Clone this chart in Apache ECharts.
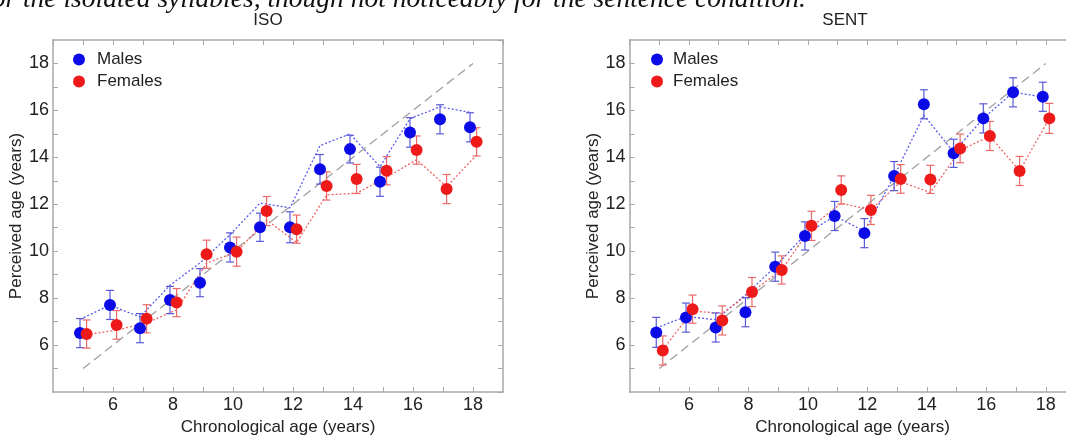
<!DOCTYPE html>
<html>
<head>
<meta charset="utf-8">
<script src="https://cdn.jsdelivr.net/npm/echarts@6/dist/echarts.min.js"></script>
<style>
	html, body { margin: 0; padding: 0; background: #fff; overflow: hidden; }
	#chart { width: 1066px; height: 435px; }
</style>
</head>
<body>
<div id="chart"></div>
<script>
	// chronological ages (x)
	var ages = [5, 6, 7, 8, 9, 10, 11, 12, 13, 14, 15, 16, 17, 18];

	// ISO panel
	var isoMale = [6.51, 7.71, 6.72, 7.92, 8.66, 10.16, 11.02, 11.02, 13.49, 14.35, 12.96, 15.06, 15.62, 15.28];
	var isoMaleErr = [0.62, 0.62, 0.62, 0.58, 0.6, 0.62, 0.6, 0.66, 0.63, 0.59, 0.62, 0.63, 0.62, 0.62];
	var isoFemale = [6.47, 6.86, 7.12, 7.81, 9.87, 9.98, 11.71, 10.94, 12.78, 13.08, 13.43, 14.31, 12.65, 14.66];
	var isoFemaleErr = [0.6, 0.61, 0.6, 0.6, 0.6, 0.62, 0.62, 0.6, 0.6, 0.62, 0.6, 0.6, 0.62, 0.6];
	var isoMaleLine = [7.1, 7.7, 7.2, 8.55, 9.5, 10.7, 12.05, 11.85, 14.5, 15.0, 13.6, 15.65, 16.15, 15.92];
	var isoFemaleLine = [6.44, 6.64, 6.94, 7.5, 9.49, 9.98, 11.33, 10.37, 12.4, 12.47, 13.15, 13.9, 12.75, 14.1];

	// SENT panel
	var sentMale = [6.54, 7.17, 6.75, 7.4, 9.34, 10.65, 11.5, 10.77, 13.2, 16.26, 14.17, 15.66, 16.77, 16.58];
	var sentMaleErr = [0.64, 0.62, 0.62, 0.62, 0.62, 0.6, 0.62, 0.62, 0.62, 0.62, 0.6, 0.62, 0.62, 0.62];
	var sentFemale = [5.77, 7.53, 7.05, 8.26, 9.2, 11.08, 12.61, 11.76, 13.08, 13.06, 14.38, 14.91, 13.42, 15.66];
	var sentFemaleErr = [0.62, 0.6, 0.62, 0.62, 0.6, 0.62, 0.6, 0.62, 0.61, 0.6, 0.61, 0.62, 0.62, 0.64];
	var sentMaleLine = [6.73, 7.22, 7.08, 8.14, 9.34, 10.7, 11.5, 10.85, 13.2, 15.8, 14.22, 15.66, 16.77, 16.58];
	var sentFemaleLine = [5.8, 7.45, 7.35, 8.28, 9.2, 11.05, 12.04, 11.76, 12.96, 12.5, 14.3, 14.9, 13.42, 15.66];

	// identity line
	var diagonal = [[5, 5], [18, 18]];

	var FONT = 'Liberation Sans, Arial, sans-serif';
	var BLUE = '#0b0be8', RED = '#ee1a1a';
	var offM = -0.1, offF = 0.12;

	function pts(vals, off) {
		return ages.map(function(a, i) { return [a + off, vals[i]] });
	}
	function errPts(vals, errs, off) {
		return ages.map(function(a, i) { return [a + off, vals[i] - errs[i], vals[i] + errs[i]] });
	}

	function errRender(color) {
		return function(params, api) {
			var x = api.value(0);
			var pHi = api.coord([x, api.value(2)]);
			var pLo = api.coord([x, api.value(1)]);
			var w = 4;
			var st = { stroke: color, lineWidth: 1.2 };
			return {
				type: 'group',
				children: [
					{ type: 'line', shape: { x1: pHi[0], y1: pHi[1], x2: pLo[0], y2: pLo[1] }, style: st },
					{ type: 'line', shape: { x1: pHi[0] - w, y1: pHi[1], x2: pHi[0] + w, y2: pHi[1] }, style: st },
					{ type: 'line', shape: { x1: pLo[0] - w, y1: pLo[1], x2: pLo[0] + w, y2: pLo[1] }, style: st }
				]
			};
		};
	}

	var axLine = { show: true, onZero: false, lineStyle: { color: '#a8a8a8', width: 1.5 } };
	var axTick = { show: true, inside: true, length: 5, lineStyle: { color: '#a8a8a8' } };

	function labelFmt(v) {
		return (v % 2 === 0 && v > 4) ? String(v) : '';
	}

	function xAxes(gi) {
		return [{
			gridIndex: gi, type: 'value', min: 4, max: 19, interval: 1, position: 'bottom',
			axisLine: axLine, axisTick: axTick, splitLine: { show: false },
			axisLabel: { formatter: labelFmt, color: '#222', fontSize: 18, fontFamily: FONT, margin: 4, showMinLabel: false, showMaxLabel: false },
			name: 'Chronological age (years)', nameLocation: 'middle', nameGap: 26,
			nameTextStyle: { color: '#222', fontSize: 17, fontFamily: FONT }
		}, {
			gridIndex: gi, type: 'value', min: 4, max: 19, interval: 1, position: 'top',
			axisLine: axLine, axisTick: axTick, splitLine: { show: false }, axisLabel: { show: false }
		}];
	}
	function yAxes(gi) {
		return [{
			gridIndex: gi, type: 'value', min: 4, max: 19, interval: 1, position: 'left',
			axisLine: axLine, axisTick: axTick, splitLine: { show: false },
			axisLabel: { formatter: labelFmt, color: '#222', fontSize: 18, fontFamily: FONT, margin: 4, showMinLabel: false, showMaxLabel: false },
			name: 'Perceived age (years)', nameLocation: 'middle', nameGap: 25,
			nameTextStyle: { color: '#222', fontSize: 17, fontFamily: FONT }
		}, {
			gridIndex: gi, type: 'value', min: 4, max: 19, interval: 1, position: 'right',
			axisLine: axLine, axisTick: axTick, splitLine: { show: false }, axisLabel: { show: false }
		}];
	}

	function panelSeries(xi, yi, male, maleErr, female, femaleErr, maleLine, femaleLine) {
		return [{
			type: 'line', xAxisIndex: xi, yAxisIndex: yi, data: diagonal, symbol: 'none', silent: true,
			lineStyle: { color: '#a0a0a0', width: 1.3, type: [9, 5] }, z: 1
		}, {
			type: 'line', xAxisIndex: xi, yAxisIndex: yi, data: pts(maleLine, offM), symbol: 'none', silent: true,
			lineStyle: { color: '#5a5aee', width: 1.3, type: [2, 2] }, z: 2
		}, {
			type: 'line', xAxisIndex: xi, yAxisIndex: yi, data: pts(femaleLine, offF), symbol: 'none', silent: true,
			lineStyle: { color: '#ee6464', width: 1.3, type: [2, 2] }, z: 2
		}, {
			type: 'custom', xAxisIndex: xi, yAxisIndex: yi, data: errPts(male, maleErr, offM),
			renderItem: errRender('#5a5ad8'), z: 3
		}, {
			type: 'custom', xAxisIndex: xi, yAxisIndex: yi, data: errPts(female, femaleErr, offF),
			renderItem: errRender('#ea6a6a'), z: 3
		}, {
			name: 'Males', type: 'scatter', xAxisIndex: xi, yAxisIndex: yi, data: pts(male, offM),
			symbolSize: 12, itemStyle: { color: BLUE, opacity: 1 }, z: 4
		}, {
			name: 'Females', type: 'scatter', xAxisIndex: xi, yAxisIndex: yi, data: pts(female, offF),
			symbolSize: 12, itemStyle: { color: RED, opacity: 1 }, z: 5
		}];
	}

	function legendAt(left, pad) {
		return {
			data: ['Males', 'Females'], orient: 'vertical', left: left, top: 50, padding: 0,
			icon: 'circle', itemWidth: 12, itemHeight: 12, itemGap: 3,
			textStyle: { color: '#222', fontSize: 17, fontFamily: FONT, lineHeight: 19, padding: [0, 0, 0, pad] },
			selectedMode: false
		};
	}

	var Chart = echarts.init(document.getElementById('chart'), null, { renderer: 'canvas' });
	var option = {
		backgroundColor: '#fff',
		animation: false,
		grid: [
			{ left: 53, top: 40, width: 450, height: 352, outerBoundsMode: 'none' },
			{ left: 629.5, top: 40, width: 446, height: 352, outerBoundsMode: 'none' }
		],
		xAxis: xAxes(0).concat(xAxes(1)),
		yAxis: yAxes(0).concat(yAxes(1)),
		legend: [legendAt(73, 7), legendAt(651, 5)],
		graphic: [
			{ type: 'text', x: -16, y: 13, style: { text: 'for the isolated syllables, though not noticeably for the sentence condition.', font: 'italic 27.5px Liberation Serif', fill: '#111', verticalAlign: 'bottom' } },
			{ type: 'text', x: 268, y: 20, style: { text: 'ISO', font: '17px Liberation Sans', fill: '#222', align: 'center', verticalAlign: 'middle' } },
			{ type: 'text', x: 845, y: 20, style: { text: 'SENT', font: '17px Liberation Sans', fill: '#222', align: 'center', verticalAlign: 'middle' } }
		],
		series: panelSeries(0, 0, isoMale, isoMaleErr, isoFemale, isoFemaleErr, isoMaleLine, isoFemaleLine)
			.concat(panelSeries(2, 2, sentMale, sentMaleErr, sentFemale, sentFemaleErr, sentMaleLine, sentFemaleLine))
	};
	Chart.setOption(option);
</script>
</body>
</html>
